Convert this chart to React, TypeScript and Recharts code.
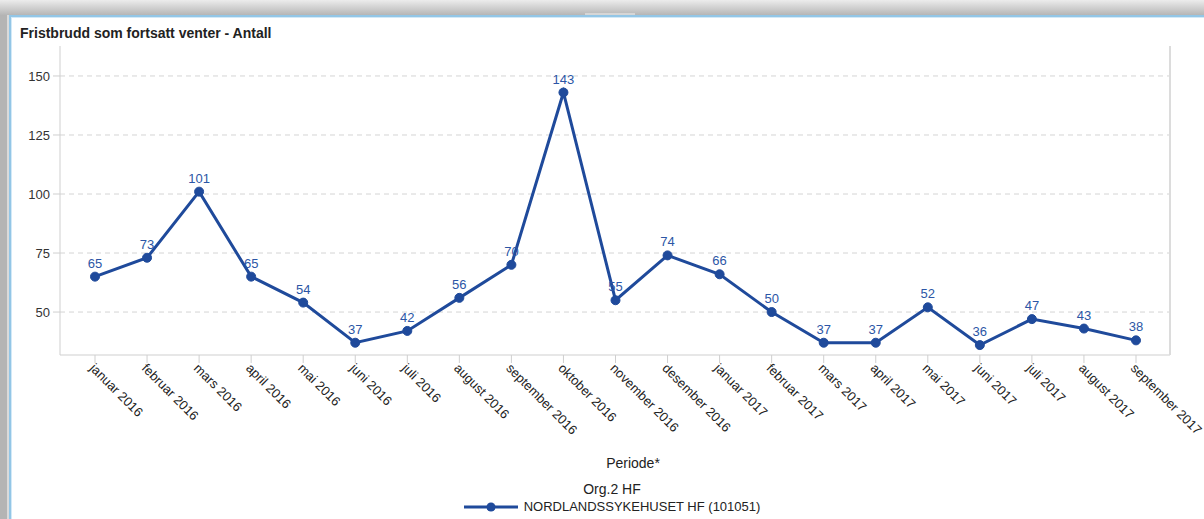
import React from 'react';
import { LineChart, Line, XAxis, YAxis, CartesianGrid, LabelList, Legend } from 'recharts';

const periods: string[] = [
  'januar 2016', 'februar 2016', 'mars 2016', 'april 2016', 'mai 2016', 'juni 2016',
  'juli 2016', 'august 2016', 'september 2016', 'oktober 2016', 'november 2016', 'desember 2016',
  'januar 2017', 'februar 2017', 'mars 2017', 'april 2017', 'mai 2017', 'juni 2017',
  'juli 2017', 'august 2017', 'september 2017',
];
const antall: number[] = [65, 73, 101, 65, 54, 37, 42, 56, 70, 143, 55, 74, 66, 50, 37, 37, 52, 36, 47, 43, 38];
const yTicks: number[] = [50, 75, 100, 125, 150];
const seriesName = 'NORDLANDSSYKEHUSET HF (101051)';
const legendTitle = 'Org.2 HF';

const data = periods.map((p, i) => ({ periode: p, antall: antall[i] }));

const FONT = '"Liberation Sans", Arial, sans-serif';
const LINE = '#1f4a9b';

const RotatedTick = (props: any) => {
  const { x, y, payload } = props;
  return (
    <g transform={`translate(${x},${y})`}>
      <text x={-6} y={4} transform="rotate(45 -6 4)" textAnchor="start" fontSize={13} fill="#222" fontFamily={FONT}>
        {payload.value}
      </text>
    </g>
  );
};

const LegendBox = () => (
  <div style={{ fontFamily: FONT, fontSize: 13, color: '#222', textAlign: 'center', lineHeight: '17px', paddingTop: 6 }}>
    <div style={{ fontSize: 14 }}>{legendTitle}</div>
    <div style={{ display: 'inline-flex', alignItems: 'center' }}>
      <svg width={56} height={12} style={{ marginRight: 4 }}>
        <line x1={0} y1={6} x2={54} y2={6} stroke={LINE} strokeWidth={3} />
        <circle cx={27} cy={6} r={4.5} fill={LINE} />
      </svg>
      <span>{seriesName}</span>
    </div>
  </div>
);

const App: React.FC = () => {
  return (
    <div style={{ position: 'fixed', left: 0, top: 0, width: 1204, height: 519, background: '#fff', overflow: 'hidden' }}>
      {/* window frame */}
      <div style={{ position: 'absolute', left: 0, top: 0, width: 1204, height: 15, background: 'linear-gradient(#ececec, #b6b6b6)' }} />
      <div style={{ position: 'absolute', left: 585, top: 13, width: 50, height: 2, background: '#d6d6d6' }} />
      <div style={{ position: 'absolute', left: 0, top: 15, width: 7, height: 504, background: '#b4b4b4' }} />
      <div style={{ position: 'absolute', left: 7, top: 15, width: 2, height: 504, background: '#dadada' }} />
      <div style={{ position: 'absolute', left: 9, top: 15, width: 1195, height: 2, background: '#93c6e6' }} />
      <div style={{ position: 'absolute', left: 9, top: 17, width: 1195, height: 1, background: '#d3e9f7' }} />
      <div style={{ position: 'absolute', left: 9, top: 15, width: 2, height: 504, background: '#93c6e6' }} />
      <div style={{ position: 'absolute', left: 11, top: 17, width: 1, height: 502, background: '#d3e9f7' }} />

      <div style={{ position: 'absolute', left: 20, top: 25, fontFamily: FONT, fontSize: 14, fontWeight: 'bold', color: '#222' }}>
        Fristbrudd som fortsatt venter - Antall
      </div>

      <div style={{ position: 'absolute', left: 0, top: 0 }}>
        <LineChart width={1204} height={519} data={data} margin={{ top: 46, right: 33, bottom: 4, left: 10 }}>
          <CartesianGrid vertical={false} horizontalValues={yTicks} stroke="#d4d4d4" strokeDasharray="5 4" />
          <XAxis
            dataKey="periode"
            interval={0}
            height={120}
            padding={{ left: 35, right: 34 }}
            axisLine={{ stroke: '#cfcfcf' }}
            tickLine={{ stroke: '#cfcfcf' }}
            tickSize={8}
            tickMargin={2}
            tick={<RotatedTick />}
            label={{ value: 'Periode*', position: 'insideBottom', offset: 7, dx: 18, fontSize: 14, fill: '#222', fontFamily: FONT }}
          />
          <XAxis xAxisId="top" orientation="top" dataKey="periode" height={0} tick={false} tickLine={false} axisLine={{ stroke: '#dcdcdc', strokeWidth: 2 }} />
          <YAxis
            width={50}
            domain={[31.8, 162.7]}
            ticks={yTicks}
            allowDataOverflow
            axisLine={{ stroke: '#cfcfcf' }}
            tickLine={{ stroke: '#cfcfcf' }}
            tickSize={7}
            tickMargin={3}
            tick={{ fontSize: 13, fill: '#333', fontFamily: FONT }}
          />
          <YAxis yAxisId="right" orientation="right" type="number" domain={[0, 1]} width={1} tick={false} tickLine={false} axisLine={{ stroke: '#dcdcdc', strokeWidth: 2 }} />
          <Legend
            verticalAlign="bottom"
            height={40}
            content={<LegendBox />}
            wrapperStyle={{ left: 20, width: 1184 }}
          />
          <Line
            type="linear"
            dataKey="antall"
            name={seriesName}
            stroke={LINE}
            strokeWidth={3}
            dot={{ r: 4.5, fill: LINE, stroke: LINE, strokeWidth: 1 }}
            activeDot={false}
            isAnimationActive={false}
          >
            <LabelList dataKey="antall" position="top" offset={9} fontSize={13} fill="#2c56a6" fontFamily={FONT} />
          </Line>
        </LineChart>
      </div>
    </div>
  );
};

export default App;
